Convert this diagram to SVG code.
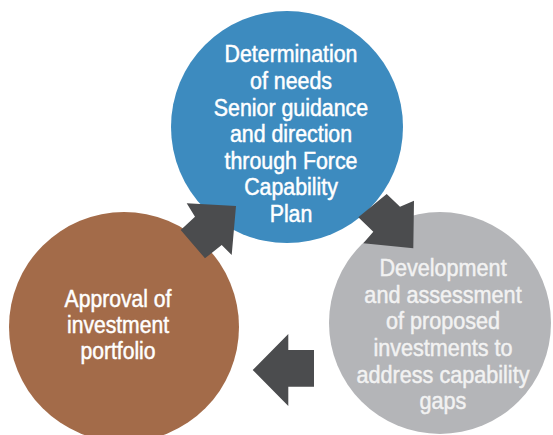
<svg xmlns="http://www.w3.org/2000/svg" width="553" height="435" viewBox="0 0 553 435">
<style>
.lbl{font-family:"Liberation Sans",Arial,sans-serif;font-size:24px;text-anchor:middle;fill:#ffffff;stroke:#ffffff;stroke-width:0.5}
.gl{fill:#f2f2f2;stroke:#f2f2f2}
.arr{fill:#4b4c4e}
</style>
<rect width="553" height="435" fill="#ffffff"/>
<g id="node-determination">
<circle cx="287" cy="127" r="116" fill="#3d8bbf"/>
<g transform="translate(291,0) scale(0.89,1)">
<text class="lbl" x="0" y="62.5">Determination</text>
<text class="lbl" x="0" y="89">of needs</text>
<text class="lbl" x="0" y="116">Senior guidance</text>
<text class="lbl" x="0" y="142.5">and direction</text>
<text class="lbl" x="0" y="169">through Force</text>
<text class="lbl" x="0" y="195.5">Capability</text>
<text class="lbl" x="0" y="222">Plan</text>
</g>
</g>
<g id="node-development">
<circle cx="440" cy="323" r="111" fill="#b4b5b8"/>
<g transform="translate(443,0) scale(0.9,1)">
<text class="lbl gl" x="0" y="276">Development</text>
<text class="lbl gl" x="0" y="303">and assessment</text>
<text class="lbl gl" x="0" y="329.5">of proposed</text>
<text class="lbl gl" x="0" y="356">investments to</text>
<text class="lbl gl" x="0" y="383">address capability</text>
<text class="lbl gl" x="0" y="409">gaps</text>
</g>
</g>
<g id="node-approval">
<circle cx="124" cy="327" r="115" fill="#a36b49"/>
<g transform="translate(118,0) scale(0.88,1)">
<text class="lbl" x="0" y="307">Approval of</text>
<text class="lbl" x="0" y="333">investment</text>
<text class="lbl" x="0" y="359">portfolio</text>
</g>
</g>
<g id="connectors">
<polygon class="arr" points="186.7,203.3 236,206 231.7,255 221.7,245 205,258.3 180.7,230 195,216.7"/>
<polygon class="arr" points="386.7,194 400,206.7 414,200.7 413.3,248.3 363.3,243.3 373.3,231.7 358.3,217.3"/>
<polygon class="arr" points="252.7,370 288.3,334 288.3,350 314,350 314,386.7 288.3,386.7 288.3,406"/>
</g>
</svg>
